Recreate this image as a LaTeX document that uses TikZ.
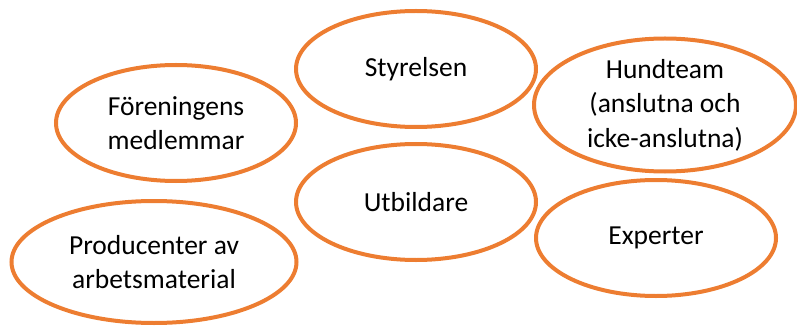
\documentclass[tikz,border=0pt]{standalone}
\usepackage{fontspec}
\setmainfont{Carlito}
\usetikzlibrary{shapes.geometric, positioning}

\definecolor{ovalorange}{RGB}{237,125,49}
\tikzset{
  oval/.style={ellipse, draw=ovalorange, line width=4pt, inner sep=-8pt,
    minimum width=240pt, minimum height=116pt, align=center,
    font=\fontsize{27.5}{34.5}\selectfont}
}

\begin{document}
\begin{tikzpicture}[x=1pt, y=1pt]
    \useasboundingbox (0,0) rectangle (797,327);

    \node[oval] (styrelsen) at (416,258) {Styrelsen};
    \node[oval, minimum width=262pt, minimum height=133pt] (hundteam) at (665,222)
      {Hundteam\\(anslutna och\\icke-anslutna)};
    \node[oval] (medlemmar) at (176,204) {Föreningens\\medlemmar};
    \node[oval] (utbildare) at (416,125) {Utbildare};
    \node[oval] (experter) at (656,89) {Experter};
    \node[oval, minimum width=285pt, minimum height=122pt] (producenter) at (154,65)
      {Producenter av\\arbetsmaterial};
\end{tikzpicture}
\end{document}
